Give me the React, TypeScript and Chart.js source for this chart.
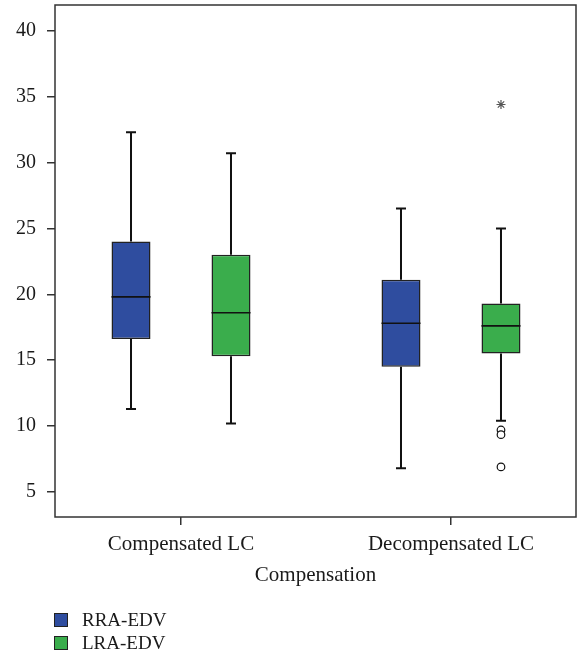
import React, { useEffect, useRef } from "react";
import { Chart, registerables } from "chart.js";

Chart.register(...registerables);

// ---- data ----
const categories = ["Compensated LC", "Decompensated LC"];
const seriesNames = ["RRA-EDV", "LRA-EDV"];
const seriesColors = ["#2f4d9f", "#3aad4c"];

// RRA-EDV five-number summaries per category
const rraMin = [11.3, 6.8];
const rraQ1 = [16.6, 14.5];
const rraMedian = [19.8, 17.8];
const rraQ3 = [24.0, 21.1];
const rraMax = [32.3, 26.5];

// LRA-EDV five-number summaries per category
const lraMin = [10.2, 10.4];
const lraQ1 = [15.3, 15.5];
const lraMedian = [18.6, 17.6];
const lraQ3 = [23.0, 19.3];
const lraMax = [30.7, 25.0];

// LRA-EDV outliers (circles) and extreme values (asterisk)
const lraOutlierCategory = [1, 1, 1];
const lraOutliers = [9.7, 9.35, 6.9];
const lraExtremeCategory = [1];
const lraExtremes = [34.4];

const yTicks = [5, 10, 15, 20, 25, 30, 35, 40];
const yMin = 3.1;
const yMax = 41.95;

const xAxisTitle = "Compensation";

// ---- layout constants ----
const CAT_PCT = 0.7407;
const BAR_PCT = 0.39;
const FONT = "'Liberation Serif', 'Times New Roman', serif";
const INK = "#1a1a1a";

const boxPlugin = {
  id: "boxWhiskers",
  afterDatasetsDraw(chart: any) {
    const ctx = chart.ctx;
    const yScale = chart.scales.y;
    chart.data.datasets.forEach((ds: any, di: number) => {
      if (!ds.stats) return;
      const meta = chart.getDatasetMeta(di);
      meta.data.forEach((bar: any, i: number) => {
        const x = bar.x;
        const half = bar.width / 2;
        const pMin = yScale.getPixelForValue(ds.stats.min[i]);
        const pMax = yScale.getPixelForValue(ds.stats.max[i]);
        const pQ1 = yScale.getPixelForValue(ds.stats.q1[i]);
        const pQ3 = yScale.getPixelForValue(ds.stats.q3[i]);
        const pMed = yScale.getPixelForValue(ds.stats.median[i]);
        ctx.save();
        ctx.strokeStyle = "#111";
        ctx.lineWidth = 2;
        ctx.beginPath();
        ctx.moveTo(x, pQ3);
        ctx.lineTo(x, pMax);
        ctx.moveTo(x - 5, pMax);
        ctx.lineTo(x + 5, pMax);
        ctx.moveTo(x, pQ1);
        ctx.lineTo(x, pMin);
        ctx.moveTo(x - 5, pMin);
        ctx.lineTo(x + 5, pMin);
        ctx.stroke();
        ctx.lineWidth = 1.6;
        ctx.beginPath();
        ctx.moveTo(x - half, pMed);
        ctx.lineTo(x + half, pMed);
        ctx.stroke();
        ctx.restore();
      });
    });
  },
};

const framePlugin = {
  id: "frame",
  afterDraw(chart: any) {
    const { ctx, chartArea } = chart;
    ctx.save();
    ctx.strokeStyle = "#333";
    ctx.lineWidth = 1.5;
    ctx.strokeRect(
      chartArea.left,
      chartArea.top,
      chartArea.right - chartArea.left,
      chartArea.bottom - chartArea.top
    );
    ctx.restore();
  },
};

const legendPlugin = {
  id: "boxLegend",
  afterDraw(chart: any) {
    const { ctx, chartArea } = chart;
    ctx.save();
    let row = 0;
    chart.data.datasets.forEach((ds: any) => {
      if (!ds.stats) return;
      const cy = chartArea.bottom + 103 + row * 23;
      const x0 = chartArea.left - 1;
      ctx.fillStyle = ds.backgroundColor;
      ctx.fillRect(x0, cy - 7, 14, 14);
      ctx.strokeStyle = "#222";
      ctx.lineWidth = 1;
      ctx.strokeRect(x0 + 0.5, cy - 6.5, 13, 13);
      ctx.fillStyle = INK;
      ctx.font = `19px ${FONT}`;
      ctx.textBaseline = "middle";
      ctx.textAlign = "left";
      ctx.fillText(ds.label, x0 + 28, cy + 1);
      row++;
    });
    ctx.restore();
  },
};

export default function App() {
  const canvasRef = useRef<HTMLCanvasElement | null>(null);

  useEffect(() => {
    if (!canvasRef.current) return;
    const groupOffset = CAT_PCT / 4;
    const makeBox = (
      name: string,
      color: string,
      mins: number[],
      q1: number[],
      med: number[],
      q3: number[],
      maxs: number[]
    ) => ({
      type: "bar",
      label: name,
      data: categories.map((_, i) => ({ x: i, y: [q1[i], q3[i]] })),
      backgroundColor: color,
      borderColor: "#222",
      borderWidth: 1.5,
      borderSkipped: false,
      categoryPercentage: CAT_PCT,
      barPercentage: BAR_PCT,
      stats: { min: mins, q1, median: med, q3, max: maxs },
    });

    const chart = new Chart(canvasRef.current, {
      type: "bar",
      data: {
        datasets: [
          makeBox(seriesNames[0], seriesColors[0], rraMin, rraQ1, rraMedian, rraQ3, rraMax),
          makeBox(seriesNames[1], seriesColors[1], lraMin, lraQ1, lraMedian, lraQ3, lraMax),
          {
            type: "scatter",
            label: "outliers",
            data: lraOutliers.map((v, i) => ({ x: lraOutlierCategory[i] + groupOffset, y: v })),
            pointStyle: "circle",
            pointRadius: 3.8,
            pointBorderWidth: 1.2,
            pointBorderColor: "#111",
            pointBackgroundColor: "#fff",
          },
          {
            type: "scatter",
            label: "extremes",
            data: lraExtremes.map((v, i) => ({ x: lraExtremeCategory[i] + groupOffset, y: v })),
            pointStyle: "star",
            pointRadius: 4.5,
            pointBorderWidth: 1.2,
            pointBorderColor: "#555",
            pointBackgroundColor: "#555",
          },
        ] as any,
      },
      options: {
        responsive: false,
        devicePixelRatio: 1,
        animation: false,
        events: [],
        layout: { autoPadding: false, padding: { left: 8, top: 5, right: 2, bottom: 71 } },
        plugins: {
          legend: { display: false },
          tooltip: { enabled: false },
        },
        scales: {
          x: {
            type: "linear",
            offset: false,
            min: -0.4667,
            max: 1.463,
            afterBuildTicks: (scale: any) => {
              scale.ticks = categories.map((_, i) => ({ value: i }));
            },
            afterFit: (scale: any) => {
              scale.height = 71;
              scale.paddingLeft = 0;
              scale.paddingRight = 0;
            },
            grid: {
              offset: false,
              drawOnChartArea: false,
              drawTicks: true,
              tickLength: 8,
              color: "#333",
              lineWidth: 1.5,
            },
            border: { display: false },
            ticks: {
              padding: 7,
              color: INK,
              font: { family: FONT, size: 21 },
              maxRotation: 0,
              autoSkip: false,
              callback: (v: any) => categories[Math.round(Number(v))] ?? "",
            },
            title: {
              display: true,
              text: xAxisTitle,
              color: INK,
              font: { family: FONT, size: 21 },
              padding: { top: 0, bottom: 0 },
            },
          },
          y: {
            type: "linear",
            min: yMin,
            max: yMax,
            afterBuildTicks: (scale: any) => {
              scale.ticks = yTicks.map((v) => ({ value: v }));
            },
            afterFit: (scale: any) => {
              scale.width = 47;
              scale.paddingTop = 0;
              scale.paddingBottom = 0;
            },
            grid: {
              drawOnChartArea: false,
              drawTicks: true,
              tickLength: 8,
              color: "#333",
              lineWidth: 1.5,
            },
            border: { display: false },
            ticks: {
              padding: 11,
              color: INK,
              font: { family: FONT, size: 20 },
              callback: (v: any) => String(v),
            },
          },
        },
      } as any,
      plugins: [boxPlugin, framePlugin, legendPlugin],
    });
    return () => chart.destroy();
  }, []);

  return (
    <div style={{ position: "absolute", left: 0, top: 0, width: 578, height: 659, background: "#fff" }}>
      <canvas ref={canvasRef} width={578} height={659} style={{ display: "block" }} />
    </div>
  );
}
